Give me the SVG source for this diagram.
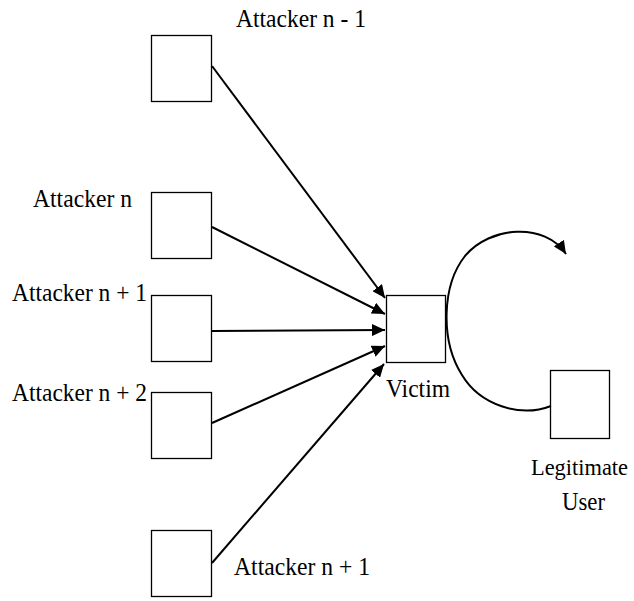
<svg xmlns="http://www.w3.org/2000/svg" width="634" height="601" viewBox="0 0 634 601">
<style>
.box{fill:#fff;stroke:#000;stroke-width:1.3}
.lbl{font-family:"Times New Roman",Times,"Liberation Serif","DejaVu Serif",serif;font-size:26px;fill:#000}
.edge{fill:none;stroke:#000;stroke-width:2}
</style>
<defs>
<marker id="ah" markerUnits="userSpaceOnUse" markerWidth="14" markerHeight="12" refX="13" refY="6" orient="auto">
<path d="M0,0 L13,6 L0,12 Z" fill="#000"/>
</marker>
</defs>
<rect width="634" height="601" fill="#fff"/>
<g id="attacker1">
<rect class="box" x="151.5" y="35.5" width="60" height="66"/>
<text class="lbl" x="236" y="27" textLength="130" lengthAdjust="spacingAndGlyphs">Attacker n - 1</text>
</g>
<g id="attacker2">
<rect class="box" x="151.5" y="192.5" width="60" height="66"/>
<text class="lbl" x="33" y="207" textLength="99" lengthAdjust="spacingAndGlyphs">Attacker n</text>
</g>
<g id="attacker3">
<rect class="box" x="151.5" y="295.5" width="60" height="66"/>
<text class="lbl" x="12" y="301" textLength="135" lengthAdjust="spacingAndGlyphs">Attacker n + 1</text>
</g>
<g id="attacker4">
<rect class="box" x="151.5" y="392.5" width="60" height="66"/>
<text class="lbl" x="12" y="401" textLength="135" lengthAdjust="spacingAndGlyphs">Attacker n + 2</text>
</g>
<g id="attacker5">
<rect class="box" x="151.5" y="530.5" width="60" height="66"/>
<text class="lbl" x="234" y="575" textLength="136" lengthAdjust="spacingAndGlyphs">Attacker n + 1</text>
</g>
<g id="victim">
<rect class="box" x="386.5" y="295.5" width="59" height="67"/>
<text class="lbl" x="386" y="397" textLength="64" lengthAdjust="spacingAndGlyphs">Victim</text>
</g>
<g id="legitimate-user">
<rect class="box" x="550.5" y="370.5" width="59" height="68"/>
<text class="lbl" style="font-size:23px" x="531" y="475" textLength="97" lengthAdjust="spacingAndGlyphs">Legitimate</text>
<text class="lbl" x="562" y="510" textLength="43" lengthAdjust="spacingAndGlyphs">User</text>
</g>
<g id="connectors">
<line class="edge" x1="212" y1="66" x2="385" y2="298" marker-end="url(#ah)"/>
<line class="edge" x1="212" y1="227" x2="385" y2="314" marker-end="url(#ah)"/>
<line class="edge" x1="212" y1="331" x2="385" y2="330" marker-end="url(#ah)"/>
<line class="edge" x1="212" y1="423" x2="385" y2="346" marker-end="url(#ah)"/>
<line class="edge" x1="212" y1="563" x2="384" y2="364" marker-end="url(#ah)"/>
<path class="edge" d="M551,406 C520,418 480,405 462,375 C440,340 442,285 465,256 C490,226 545,222 566,254" marker-end="url(#ah)"/>
</g>
</svg>
